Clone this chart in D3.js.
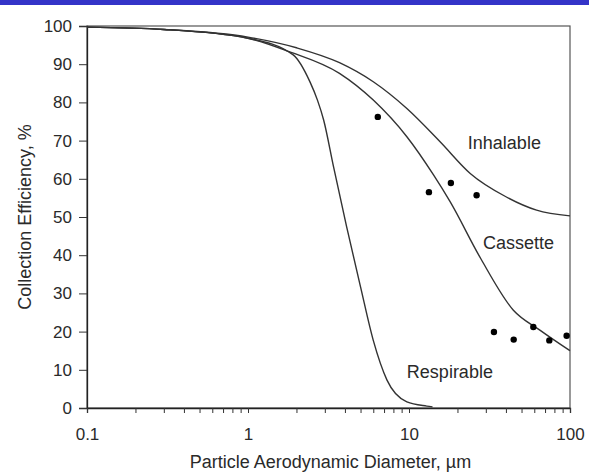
<!DOCTYPE html>
<html>
<head>
<meta charset="utf-8">
<script src="https://cdn.jsdelivr.net/npm/d3@7"></script>
<style>
  body { margin: 0; background: #fff; }
  text { font-family: "Liberation Sans", Arial, sans-serif; fill: #2a2a2a; }
</style>
</head>
<body>
<div id="chart"></div>
<script>
// curves (diameter in µm, efficiency in %)
const inhalableD = [0.1, 0.3, 1, 2, 3.7, 6, 9.7, 15.6, 24, 40, 62, 100];
const inhalableV = [99.7, 99.1, 97.1, 94.3, 90.4, 85.4, 78.4, 69.7, 61.4, 55.3, 51.8, 50.3];

const cassetteD = [0.1, 0.3, 1, 1.8, 3.7, 6, 9.7, 14.2, 18, 28, 44.5, 65, 100];
const cassetteV = [99.7, 99.1, 96.8, 93.3, 87.6, 80.6, 71.0, 61, 54, 39, 25.6, 20.4, 15];

const respirableD = [0.1, 0.3, 1, 1.9, 2.43, 2.7, 2.95, 3.4, 4.1, 5, 6, 7.3, 9.7, 12.9, 14];
const respirableV = [99.7, 99.1, 96.8, 92.5, 85.3, 80.6, 75.4, 63.1, 47.4, 31.7, 17.7, 7.3, 1.6, 0.5, 0.3];

// measured cassette points
const pointD = [6.4, 13.3, 18.2, 26.3, 33.7, 44.7, 59.2, 74.4, 95.3];
const pointV = [76.2, 56.5, 58.9, 55.7, 19.9, 17.9, 21.2, 17.7, 18.9];

const yTicks = [0, 10, 20, 30, 40, 50, 60, 70, 80, 90, 100];
const xTicks = [0.1, 1, 10, 100];

const width = 589, height = 475;
const margin = { top: 26, right: 19, bottom: 67, left: 87 };
const w = width - margin.left - margin.right;
const h = height - margin.top - margin.bottom;

const svg = d3.select("#chart").append("svg")
    .attr("width", width)
    .attr("height", height);

// blue strip along the top
svg.append("rect")
    .attr("x", 0).attr("y", 0)
    .attr("width", width).attr("height", 5)
    .attr("fill", "#3434c8");

const g = svg.append("g")
    .attr("transform", `translate(${margin.left},${margin.top})`);

const x = d3.scaleLog().domain([0.1, 100]).range([0, w]);
const y = d3.scaleLinear().domain([0, 100]).range([h, 0]);

// frame
g.append("rect")
    .attr("width", w).attr("height", h)
    .attr("fill", "none")
    .attr("stroke", "#555")
    .attr("stroke-width", 1.2);

// y axis
const yAxis = g.append("g")
    .call(d3.axisLeft(y).tickValues(yTicks).tickSize(8).tickPadding(7));
yAxis.select(".domain").attr("stroke", "#222").attr("stroke-width", 1.3);
yAxis.selectAll(".tick line").attr("stroke", "#333");
yAxis.selectAll("text").style("font-size", "17px").attr("fill", "#2a2a2a");

// x axis, minor ticks on every 2..9
const minor = [];
for (let dec = 0.1; dec < 100; dec *= 10) {
    for (let k = 2; k <= 9; k++) minor.push(+(dec * k).toPrecision(3));
}
const xAxis = g.append("g")
    .attr("transform", `translate(0,${h})`)
    .call(d3.axisBottom(x).tickValues(xTicks.concat(minor)).tickSize(5).tickPadding(15)
        .tickFormat(d => xTicks.includes(d) ? d : ""));
xAxis.select(".domain").attr("stroke", "#222").attr("stroke-width", 1.3);
xAxis.selectAll(".tick line").attr("stroke", "#333");
xAxis.selectAll("text").style("font-size", "17px").attr("fill", "#2a2a2a");

// curves
const line = d3.line()
    .x(d => x(d[0]))
    .y(d => y(d[1]))
    .curve(d3.curveMonotoneX);

const curves = [
    [inhalableD, inhalableV],
    [cassetteD, cassetteV],
    [respirableD, respirableV]
];
curves.forEach(([ds, vs]) => {
    g.append("path")
        .datum(ds.map((d, i) => [d, vs[i]]))
        .attr("fill", "none")
        .attr("stroke", "#333")
        .attr("stroke-width", 1.4)
        .attr("d", line);
});

// points
g.selectAll(".pt")
    .data(pointD.map((d, i) => [d, pointV[i]]))
    .enter()
    .append("circle")
    .attr("class", "pt")
    .attr("cx", d => x(d[0]))
    .attr("cy", d => y(d[1]))
    .attr("r", 3.2)
    .attr("fill", "#000");

// curve labels
const labels = [
    { text: "Inhalable", d: 23.2, v: 67.8 },
    { text: "Cassette", d: 28.8, v: 41.6 },
    { text: "Respirable", d: 9.7, v: 7.8 }
];
g.selectAll(".lbl")
    .data(labels)
    .enter()
    .append("text")
    .attr("class", "lbl")
    .attr("x", d => x(d.d))
    .attr("y", d => y(d.v))
    .style("font-size", "18px")
    .text(d => d.text);

// axis titles
svg.append("text")
    .attr("x", margin.left + w / 2 + 2)
    .attr("y", 468)
    .attr("text-anchor", "middle")
    .style("font-size", "18px")
    .text("Particle Aerodynamic Diameter, µm");

svg.append("text")
    .attr("transform", `translate(31,${margin.top + h / 2}) rotate(-90)`)
    .attr("text-anchor", "middle")
    .style("font-size", "18px")
    .text("Collection Efficiency, %");
</script>
</body>
</html>
